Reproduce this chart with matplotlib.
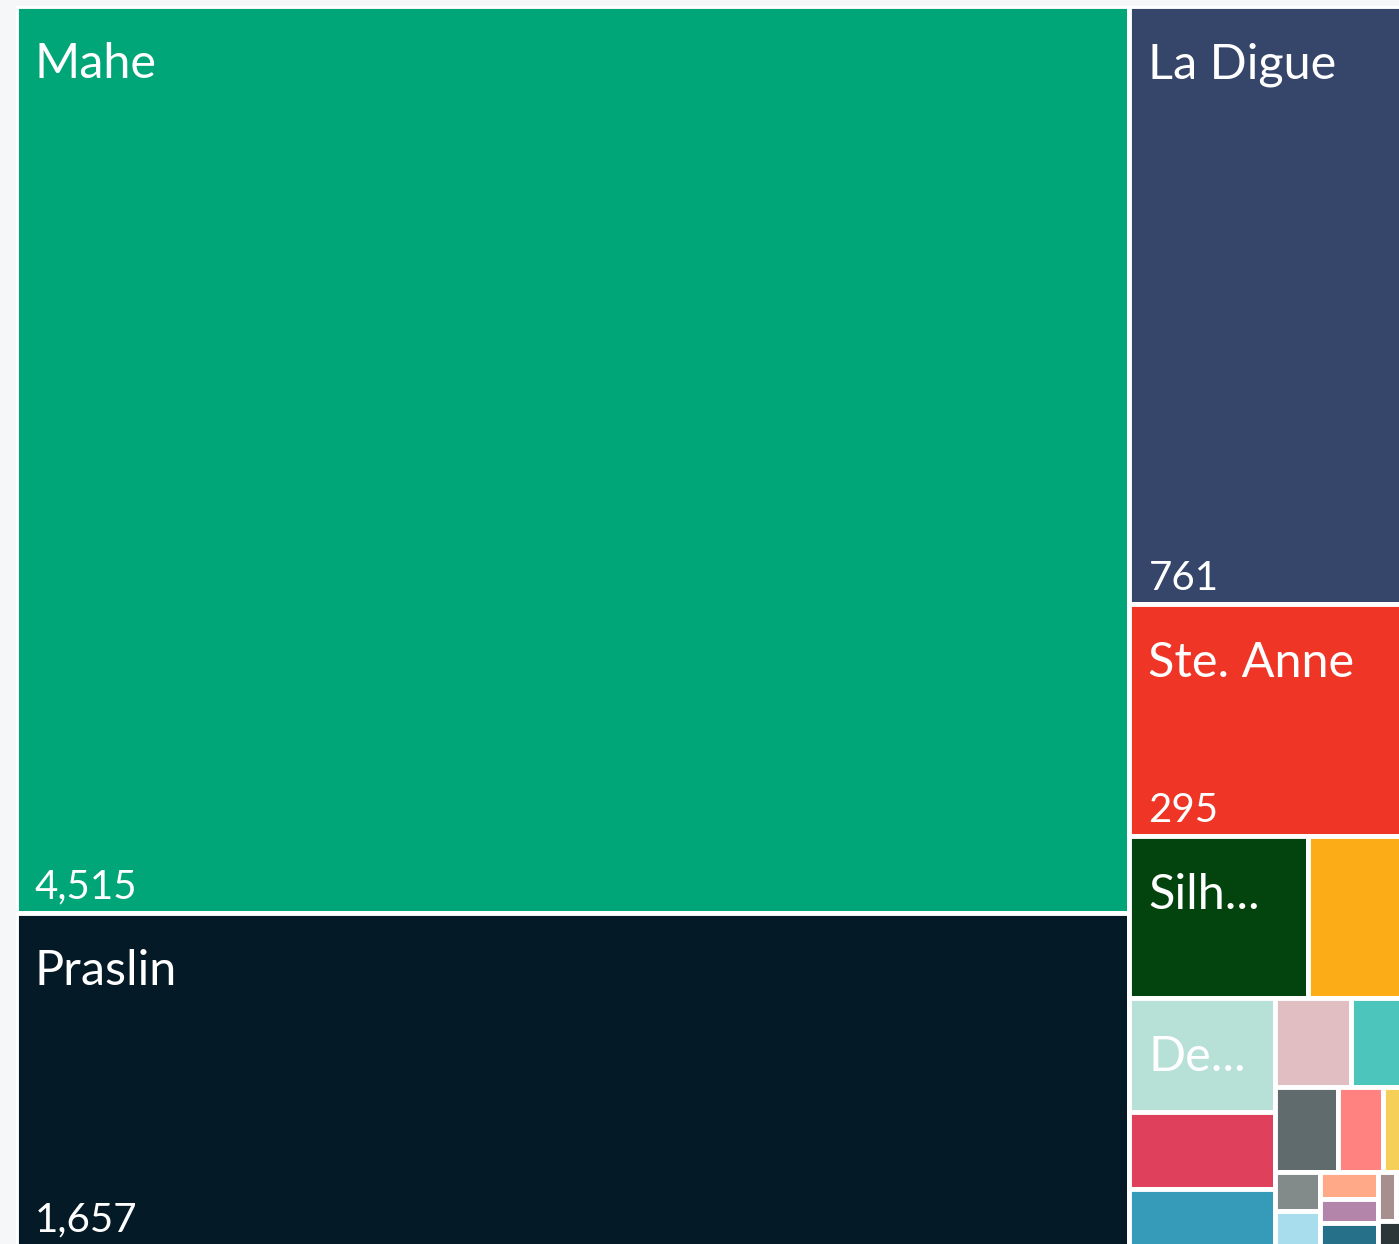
# Treemap of visitors by island (Seychelles)

import matplotlib.pyplot as plt
from matplotlib.patches import Rectangle
from matplotlib.font_manager import FontProperties

islands = ["Mahe", "Praslin", "La Digue", "Ste. Anne", "Silhouette", "Cerf",
           "Denis", "Fregate", "Bird", "Curieuse", "North", "Alphonse",
           "Cousine", "Moyenne", "Round", "Aride", "Cousin", "Felicite",
           "Therese", "Long", "Anonyme", "Poivre"]
visitors = [4515, 1657, 761, 295, 129, 77, 74, 50, 37, 30, 25, 24,
            17, 12, 8, 7, 7, 6, 6, 4, 4, 4]
colors = ["#00a678", "#041b27", "#35466a", "#ee3526", "#03430e", "#fcac16",
          "#b7e0d6", "#df405b", "#369ab9", "#e0bec2", "#4cc5bc", "#5f6b6d",
          "#ff8180", "#f5cf57", "#828a8a", "#a7dded", "#ffa988", "#b485ab",
          "#267089", "#a68f8e", "#c7b3d6", "#2c3538"]

PHI = (1 + 5 ** 0.5) / 2


def squarify(values, x0, y0, x1, y1, ratio=PHI):
    # same row logic as d3.treemapSquarify (golden ratio)
    rects = []
    value = float(sum(values))
    n = len(values)
    i0 = 0
    while i0 < n:
        dx, dy = x1 - x0, y1 - y0
        i1 = i0 + 1
        sum_v = min_v = max_v = values[i0]
        alpha = max(dy / dx, dx / dy) / (value * ratio)
        beta = sum_v * sum_v * alpha
        min_ratio = max(max_v / beta, beta / min_v)
        while i1 < n:
            v = values[i1]
            s2 = sum_v + v
            mn, mx = min(min_v, v), max(max_v, v)
            beta = s2 * s2 * alpha
            r = max(mx / beta, beta / mn)
            if r > min_ratio:
                break
            sum_v, min_v, max_v, min_ratio = s2, mn, mx, r
            i1 += 1
        row = values[i0:i1]
        if dx < dy:
            y_end = y0 + dy * sum_v / value
            x = x0
            for v in row:
                w = dx * v / sum_v
                rects.append((x, y0, w, y_end - y0))
                x += w
            y0 = y_end
        else:
            x_end = x0 + dx * sum_v / value
            y = y0
            for v in row:
                h = dy * v / sum_v
                rects.append((x0, y, x_end - x0, h))
                y += h
            x0 = x_end
        value -= sum_v
        i0 = i1
    return rects


W, H = 1398.0, 1240.0
fig = plt.figure(figsize=(13.99, 12.44), dpi=100, facecolor="#f6f7f8")
ax = fig.add_axes([16 / 1399, -2 / 1244, W / 1399, H / 1244])
ax.set_facecolor("white")
ax.set_xlim(0, W)
ax.set_ylim(H, 0)
ax.set_xticks([])
ax.set_yticks([])
for sp in ax.spines.values():
    sp.set_visible(False)

rects = squarify(visitors, 0, 0, W, H)

renderer = fig.canvas.get_renderer()
px = ax.bbox.width / W
name_font = FontProperties(family="Lato", size=35)
pad = 21


def text_width(s):
    return renderer.get_text_width_height_descent(s, name_font, ismath=False)[0]


def fit_label(name, avail):
    if text_width(name) <= avail:
        return name, True
    for k in range(len(name) - 1, 1, -1):
        cand = name[:k].rstrip() + "..."
        if text_width(cand) <= avail:
            return cand, False
    return None, False


for (x, y, w, h), name, val, c in zip(rects, islands, visitors, colors):
    ax.add_patch(Rectangle((x, y), w, h, facecolor=c, edgecolor="white",
                           linewidth=3.5))
    if h * px < 100:
        continue
    label, full = fit_label(name, w * px - 2 * pad)
    if label is None:
        continue
    ax.annotate(label, xy=(x, y), xytext=(13.6, -52),
                textcoords="offset points", ha="left", va="baseline",
                fontsize=35, color="white", family=["Lato", "DejaVu Sans"])
    if full and h * px >= 150:
        ax.annotate(f"{val:,}", xy=(x, y + h), xytext=(13.6, 10.5),
                    textcoords="offset points", ha="left", va="baseline",
                    fontsize=29, color="white", family=["Lato", "DejaVu Sans"])

fig.savefig("out.png", dpi=100, facecolor=fig.get_facecolor())
